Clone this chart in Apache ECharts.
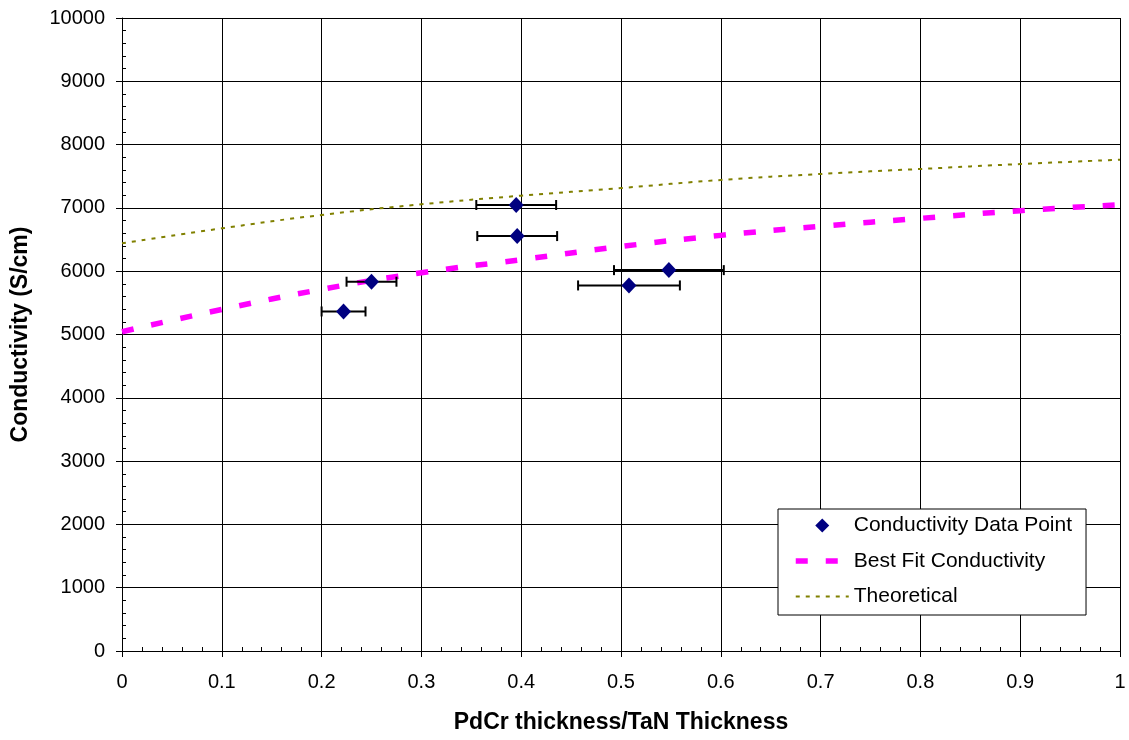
<!DOCTYPE html>
<html>
<head>
<meta charset="utf-8">
<script src="https://cdn.jsdelivr.net/npm/echarts@6/dist/echarts.min.js"></script>
<style>
  html, body { margin: 0; padding: 0; background: #fff; }
  #chart { width: 1129px; height: 740px; }
</style>
</head>
<body>
<div id="chart"></div>
<script>
// measured data points (thickness ratio, conductivity, horizontal error)
const pointX = [0.222, 0.250, 0.395, 0.396, 0.548, 0.508]
const pointY = [5364, 5834, 7046, 6555, 6017, 5775]
const pointErr = [0.022, 0.025, 0.040, 0.040, 0.055, 0.051]

const curveX = [0, 0.1, 0.2, 0.3, 0.4, 0.5, 0.6, 0.7, 0.8, 0.9, 1.0]
const bestFit = [5044, 5395, 5712, 5976, 6182, 6390, 6566, 6709, 6835, 6956, 7050]
const theoretical = [6440, 6677, 6888, 7057, 7193, 7314, 7441, 7536, 7615, 7693, 7761]

const font = "'Liberation Sans', Arial, sans-serif"

const chart = echarts.init(document.getElementById('chart'))

const scatterData = pointX.map((x, i) => [x, pointY[i]])
const errData = pointX.map((x, i) => [x, pointY[i], pointErr[i]])

const option = {
  backgroundColor: '#fff',
  animation: false,
  textStyle: { fontFamily: font },
  grid: { left: 122, right: 9, top: 18, bottom: 89 },
  legend: {
    orient: 'vertical',
    left: 778,
    top: 509,
    padding: [6, 14, 8, 15],
    itemGap: 14.5,
    itemWidth: 53,
    itemHeight: 14,
    backgroundColor: '#fff',
    borderColor: '#000',
    borderWidth: 1,
    textStyle: { fontSize: 21, color: '#000', fontFamily: font },
    data: [
      { name: 'Conductivity Data Point', icon: 'path://M7,0L14,7L7,14L0,7Z' },
      { name: 'Best Fit Conductivity', itemStyle: { opacity: 0 }, lineStyle: { width: 5.5 } },
      { name: 'Theoretical', itemStyle: { opacity: 0 }, lineStyle: { width: 2 } }
    ]
  },
  xAxis: {
    type: 'value',
    min: 0,
    max: 1,
    interval: 0.1,
    name: 'PdCr thickness/TaN Thickness',
    nameLocation: 'middle',
    nameGap: 60,
    nameTextStyle: { fontSize: 23, fontWeight: 'bold', color: '#000', fontFamily: font },
    axisLine: { lineStyle: { color: '#000', width: 1 } },
    axisTick: { show: true, length: 6, lineStyle: { color: '#000' } },
    minorTick: { show: true, splitNumber: 5, length: -4, lineStyle: { color: '#000' } },
    axisLabel: { fontSize: 20, color: '#000', margin: 21, fontFamily: font },
    splitLine: { show: true, lineStyle: { color: '#000', width: 1 } }
  },
  yAxis: {
    type: 'value',
    min: 0,
    max: 10000,
    interval: 1000,
    name: 'Conductivity (S/cm)',
    nameLocation: 'middle',
    nameGap: 90,
    nameTextStyle: { fontSize: 23, fontWeight: 'bold', color: '#000', fontFamily: font },
    axisLine: { show: true, lineStyle: { color: '#000', width: 1 } },
    axisTick: { show: true, length: 6, lineStyle: { color: '#000' } },
    minorTick: { show: true, splitNumber: 5, length: -4, lineStyle: { color: '#000' } },
    axisLabel: { fontSize: 20, color: '#000', margin: 17, fontFamily: font, formatter: v => String(v) },
    splitLine: { show: true, lineStyle: { color: '#000', width: 1 } }
  },
  series: [
    {
      name: 'Theoretical',
      type: 'line',
      data: curveX.map((x, i) => [x, theoretical[i]]),
      smooth: true,
      symbol: 'none',
      color: '#808000',
      lineStyle: { color: '#808000', width: 2, type: [4, 6] },
      z: 3
    },
    {
      name: 'Best Fit Conductivity',
      type: 'line',
      data: curveX.map((x, i) => [x, bestFit[i]]),
      smooth: true,
      symbol: 'none',
      color: '#ff00ff',
      lineStyle: { color: '#ff00ff', width: 5.5, type: [12, 18] },
      z: 3
    },
    {
      name: 'errorbars',
      type: 'custom',
      data: errData,
      z: 4,
      renderItem: (params, api) => {
        const x = api.value(0)
        const y = api.value(1)
        const e = api.value(2)
        const a = api.coord([x - e, y])
        const b = api.coord([x + e, y])
        const style = { stroke: '#000', lineWidth: 2 }
        return {
          type: 'group',
          children: [
            { type: 'line', shape: { x1: a[0], y1: a[1], x2: b[0], y2: b[1] }, style },
            { type: 'line', shape: { x1: a[0], y1: a[1] - 5, x2: a[0], y2: a[1] + 5 }, style },
            { type: 'line', shape: { x1: b[0], y1: b[1] - 5, x2: b[0], y2: b[1] + 5 }, style }
          ]
        }
      }
    },
    {
      name: 'Conductivity Data Point',
      type: 'scatter',
      data: scatterData,
      symbol: 'diamond',
      symbolSize: [15, 16],
      color: '#000080',
      itemStyle: { color: '#000080', opacity: 1 },
      z: 5
    }
  ]
}

chart.setOption(option)
</script>
</body>
</html>
